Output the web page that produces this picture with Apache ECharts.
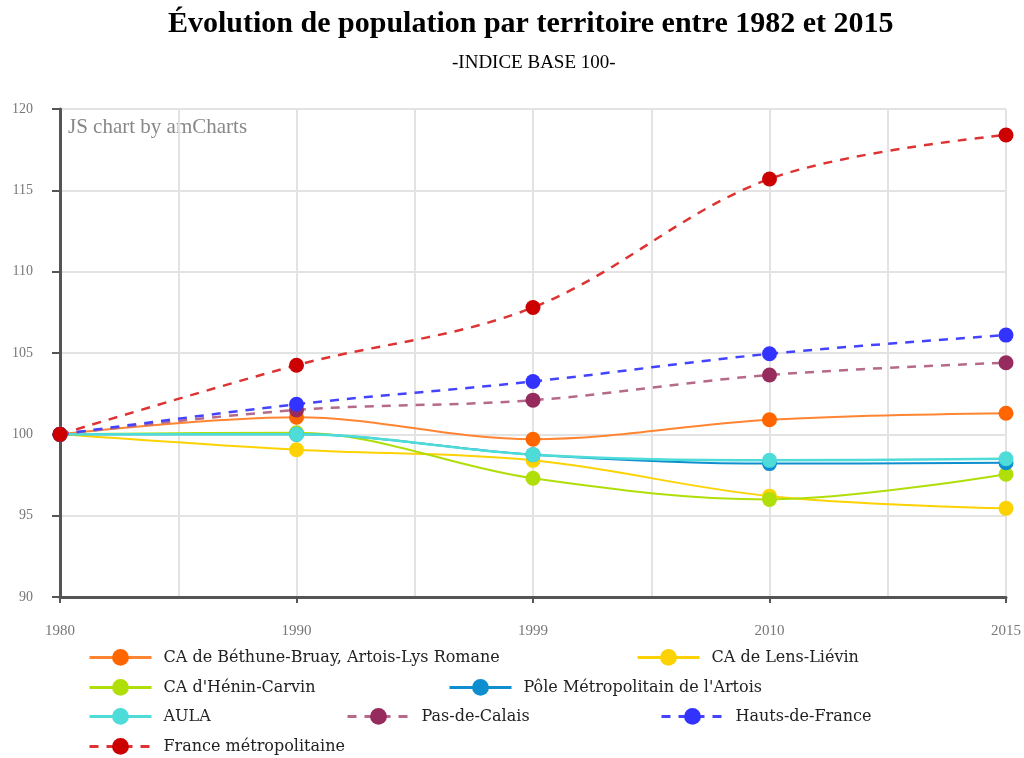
<!DOCTYPE html>
<html>
<head>
<meta charset="utf-8">
<script src="https://cdn.jsdelivr.net/npm/echarts@6/dist/echarts.min.js"></script>
<style>
html,body{margin:0;padding:0;background:#fff;}
#chart{width:1024px;height:758px;}
</style>
</head>
<body>
<div id="chart"></div>
<script>
// annees (placees a intervalles egaux)
var annees = ['1980', '1990', '1999', '2010', '2015'];

// indices base 100
var bethune = [100, 101.05, 99.7, 100.9, 101.3];
var lens = [100, 99.05, 98.4, 96.2, 95.45];
var henin = [100, 100.1, 97.3, 96.0, 97.55];
var pole = [100, 100.0, 98.75, 98.2, 98.25];
var aula = [100, 100.0, 98.75, 98.4, 98.5];
var pasDeCalais = [100, 101.5, 102.1, 103.65, 104.4];
var hautsDeFrance = [100, 101.85, 103.25, 104.95, 106.1];
var france = [100, 104.25, 107.8, 115.7, 118.4];

var nomsSeries = ['CA de Béthune-Bruay, Artois-Lys Romane', 'CA de Lens-Liévin', "CA d'Hénin-Carvin",
	"Pôle Métropolitain de l'Artois", 'AULA', 'Pas-de-Calais', 'Hauts-de-France', 'France métropolitaine'];

var police = '"Liberation Serif", "DejaVu Serif", serif';
var policeLegende = '"DejaVu Serif", serif';

function points(valeurs) {
	var res = [];
	for (var i = 0; i < valeurs.length; i++) {
		res.push([i, valeurs[i]]);
	}
	return res;
}

function serie(nom, valeurs, couleur, couleurLigne, pointille, largeur) {
	return {
		name: nom,
		type: 'line',
		smooth: 0.35,
		xAxisIndex: 0,
		data: points(valeurs),
		symbol: 'circle',
		symbolSize: 15,
		itemStyle: { color: couleur },
		lineStyle: { color: couleurLigne, width: largeur, type: pointille ? [9, 8] : 'solid' },
		emphasis: { disabled: true }
	};
}

// positions des entrees de la legende (comme amCharts)
var posLegende = [
	[88, 649], [636, 649],
	[88, 679], [448, 679],
	[88, 708], [346, 708], [660, 708],
	[88, 738]
];
var legendes = [];
for (var i = 0; i < nomsSeries.length; i++) {
	legendes.push({
		data: [nomsSeries[i]],
		left: posLegende[i][0],
		top: posLegende[i][1],
		padding: 0,
		itemWidth: 62,
		itemHeight: 21,
		selectedMode: false,
		lineStyle: { width: 3 },
		textStyle: { fontFamily: policeLegende, fontSize: 16, color: '#222', padding: [0, 0, 0, 7] }
	});
}

var myChart = echarts.init(document.getElementById('chart'));
myChart.setOption({
	backgroundColor: '#fff',
	animation: false,
	title: [{
		text: 'Évolution de population par territoire entre 1982 et 2015',
		left: 168,
		top: 9,
		padding: 0,
		textStyle: { fontFamily: police, fontSize: 30, fontWeight: 'bold', color: '#000' }
	}, {
		text: '-INDICE BASE 100-',
		left: 452,
		top: 54,
		padding: 0,
		textStyle: { fontFamily: police, fontSize: 19, fontWeight: 'normal', color: '#000' }
	}],
	graphic: [{
		type: 'text',
		left: 68,
		top: 117,
		style: { text: 'JS chart by amCharts', font: '21px ' + police, fill: '#888' }
	}],
	legend: legendes,
	grid: { left: 60, right: 18, top: 109, bottom: 161 },
	xAxis: [{
		type: 'value',
		min: 0,
		max: annees.length - 1,
		interval: 1,
		axisLine: { show: true, onZero: false, lineStyle: { color: '#555', width: 3 } },
		axisTick: { show: true, length: 6, lineStyle: { color: '#555', width: 2 } },
		splitLine: { show: false },
		axisLabel: {
			margin: 27,
			fontFamily: police, fontSize: 15, color: '#777',
			formatter: function (v) { return annees[Math.round(v)] || ''; }
		}
	}, {
		type: 'value',
		min: 0,
		max: annees.length - 1,
		interval: 0.5,
		position: 'bottom',
		axisLine: { show: false },
		axisTick: { show: false },
		axisLabel: { show: false },
		splitLine: { show: true, lineStyle: { color: '#e3e3e3', width: 2 } }
	}],
	yAxis: {
		type: 'value',
		min: 90,
		max: 120,
		interval: 5,
		axisLine: { show: true, lineStyle: { color: '#555', width: 3 } },
		axisTick: { show: true, length: 8, lineStyle: { color: '#555', width: 2 } },
		splitLine: { show: true, lineStyle: { color: '#e3e3e3', width: 2 } },
		axisLabel: { margin: 27, fontFamily: police, fontSize: 14, color: '#777' }
	},
	series: [
		serie(nomsSeries[0], bethune, '#FF6600', '#FF8533', false, 2),
		serie(nomsSeries[1], lens, '#FCD202', '#FCD202', false, 2),
		serie(nomsSeries[2], henin, '#B0DE09', '#B0DE09', false, 2),
		serie(nomsSeries[3], pole, '#0D8ECF', '#0D8ECF', false, 2),
		serie(nomsSeries[4], aula, '#4EDCD8', '#4EDCD8', false, 2.5),
		serie(nomsSeries[5], pasDeCalais, '#962B5E', '#B66A8A', true, 2.5),
		serie(nomsSeries[6], hautsDeFrance, '#3333FF', '#4444FF', true, 2.5),
		serie(nomsSeries[7], france, '#CC0000', '#DD3333', true, 2.5)
	]
});
</script>
</body>
</html>
